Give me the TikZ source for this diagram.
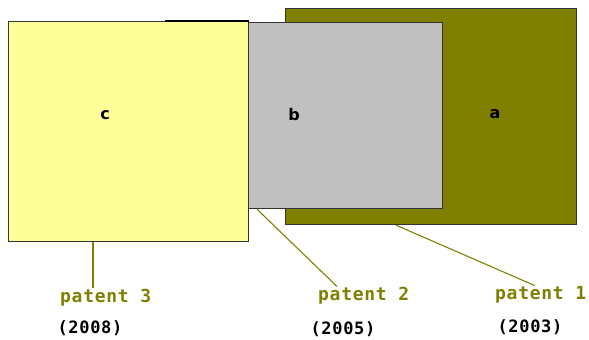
\documentclass[tikz,border=0pt]{standalone}
\usepackage{fontspec}
\newfontfamily\tagfont[LetterSpace=4]{DejaVu Sans Mono}
\newfontfamily\boxfont{DejaVu Sans}
\usetikzlibrary{positioning}
\definecolor{OliveC}{HTML}{808000}
\definecolor{GrayC}{HTML}{C0C0C0}
\definecolor{YellowC}{HTML}{FFFF99}
\definecolor{EdgeC}{HTML}{333333}

\begin{document}
\begin{tikzpicture}[
    x=1pt, y=-1pt,
    area/.style={rectangle, draw=EdgeC, line width=1.2pt, anchor=north west, inner sep=0pt},
    letter/.style={font=\boxfont\bfseries\fontsize{16}{16}\selectfont},
    patent/.style={font=\tagfont\bfseries\fontsize{18}{18}\selectfont, text=OliveC, anchor=base west, inner sep=0pt},
    year/.style={font=\tagfont\bfseries\fontsize{17}{17}\selectfont, inner sep=0pt},
    lead/.style={draw=OliveC, line width=1.1pt}
]
\useasboundingbox (0,0) rectangle (589,340);

%%%%%%%%%%%%%%%%%%%%%%%%%%%%%%%%%%%%%%%%%%%%%%%%%%%%%%%%%%%%%%%%%%%
% Overlapping areas (oldest at the back)
%%%%%%%%%%%%%%%%%%%%%%%%%%%%%%%%%%%%%%%%%%%%%%%%%%%%%%%%%%%%%%%%%%%
\node[area, fill=OliveC, minimum width=291pt, minimum height=216pt] (a) at (285,8) {};
\node[area, fill=GrayC, minimum width=194pt, minimum height=186pt] (b) at (248,22) {};
\node[area, fill=YellowC, minimum width=240pt, minimum height=220pt] (c) at (8,21) {};
\draw[line width=2pt] ([xshift=157pt]c.north west) -- (c.north east);

% Area letters
\node[letter] (alabel) at (495,114) {a};
\node[letter] (blabel) at (294,115) {b};
\node[letter] (clabel) at (105,115) {c};

%%%%%%%%%%%%%%%%%%%%%%%%%%%%%%%%%%%%%%%%%%%%%%%%%%%%%%%%%%%%%%%%%%%
% Patent labels
%%%%%%%%%%%%%%%%%%%%%%%%%%%%%%%%%%%%%%%%%%%%%%%%%%%%%%%%%%%%%%%%%%%
\node[patent] (p3) at (60,302) {patent 3};
\node[patent] (p2) at (318,300) {patent 2};
\node[patent] (p1) at (495,299) {patent 1};

\node[year] (y3) at (90,328) {(2008)};
\node[year] (y2) at (343,329) {(2005)};
\node[year] (y1) at (530,327) {(2003)};

%%%%%%%%%%%%%%%%%%%%%%%%%%%%%%%%%%%%%%%%%%%%%%%%%%%%%%%%%%%%%%%%%%%
% Leader lines
%%%%%%%%%%%%%%%%%%%%%%%%%%%%%%%%%%%%%%%%%%%%%%%%%%%%%%%%%%%%%%%%%%%
\draw[lead] ([xshift=85pt]c.south west) -- ([xshift=33pt]p3.north west);
\draw[lead] ([xshift=9pt]b.south west) -- ([xshift=19pt]p2.north west);
\draw[lead] ([xshift=111pt]a.south west) -- ([xshift=40pt]p1.north west);

\end{tikzpicture}
\end{document}
